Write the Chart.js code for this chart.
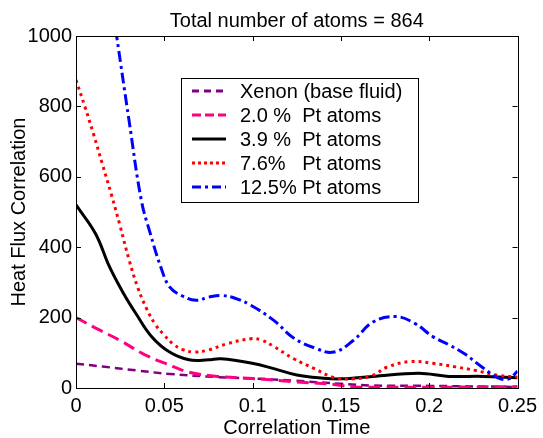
<!DOCTYPE html>
<html>
<head>
<meta charset="utf-8">
<script src="https://cdn.jsdelivr.net/npm/chart.js@4.4.1/dist/chart.umd.min.js"></script>
<style>
  html, body { margin: 0; padding: 0; background: #fff; }
</style>
</head>
<body>
<canvas id="chart" width="543" height="438"></canvas>
<script>
// Axis ticks
const xTicks = [0, 0.05, 0.1, 0.15, 0.2, 0.25];
const xTickLabels = ['0', '0.05', '0.1', '0.15', '0.2', '0.25'];
const yTicks = [0, 200, 400, 600, 800, 1000];
const yTickLabels = ['0', '200', '400', '600', '800', '1000'];

// Series labels
const seriesLabels = ['Xenon (base fluid)', '2.0 %  Pt atoms', '3.9 %  Pt atoms', '7.6%   Pt atoms', '12.5% Pt atoms'];

// Xenon (base fluid)
const xenonT = [0, 0.015, 0.034, 0.053, 0.08, 0.1, 0.123, 0.15, 0.168, 0.2, 0.25];
const xenonV = [69, 61, 50, 40, 31, 27, 21, 12, 7, 6, 3];

// 2.0 % Pt
const pt20T = [0, 0.012, 0.025, 0.038, 0.051, 0.064, 0.08, 0.1, 0.123, 0.146, 0.157, 0.175, 0.2, 0.225, 0.25];
const pt20V = [200, 168, 135, 97, 69, 45, 33, 27, 18, 10, 3, 2, 2, 3, 4];

// 3.9 % Pt
const pt39T = [0, 0.011, 0.019, 0.027, 0.034, 0.043, 0.053, 0.064, 0.075, 0.082, 0.099, 0.112, 0.125, 0.14, 0.15, 0.168, 0.194, 0.211, 0.23, 0.25];
const pt39V = [520, 439, 344, 268, 211, 145, 102, 80, 80, 83, 71, 55, 37, 28, 26, 33, 42, 33, 33, 29];

// 7.6 % Pt
const pt76T = [0, 0.005, 0.01, 0.015, 0.02, 0.025, 0.03, 0.035, 0.04, 0.045, 0.05, 0.055, 0.06, 0.067, 0.075, 0.085, 0.099, 0.105, 0.112, 0.123, 0.135, 0.146, 0.157, 0.168, 0.176, 0.189, 0.202, 0.215, 0.226, 0.239, 0.25];
const pt76V = [875, 800, 720, 635, 550, 460, 365, 285, 225, 180, 150, 125, 110, 102, 108, 125, 140, 136, 118, 84, 55, 30, 26, 36, 59, 75, 70, 60, 50, 36, 31];

// 12.5 % Pt
const pt125T = [0, 0.01, 0.02, 0.023, 0.03, 0.037, 0.042, 0.048, 0.053, 0.06, 0.068, 0.075, 0.082, 0.09, 0.099, 0.112, 0.123, 0.135, 0.146, 0.157, 0.168, 0.181, 0.192, 0.202, 0.211, 0.22, 0.23, 0.239, 0.245, 0.25];
const pt125V = [1950, 1450, 1100, 1000, 761, 533, 440, 344, 287, 262, 249, 258, 263, 255, 235, 192, 143, 114, 102, 135, 187, 203, 183, 146, 123, 97, 59, 29, 26, 48];

const FONT = { family: "'Liberation Sans', Arial, sans-serif", size: 20 };
const TICK_LEN = 5;

function points(ts, vs) {
  return ts.map((t, i) => ({ x: t, y: vs[i] }));
}

// Dash patterns used in the legend box (shorter than in the plot)
const legendDash = [[7, 5], [9, 4], [], [3, 3], [9, 4, 3, 4]];

// Frame with inward ticks on all four sides
const framePlugin = {
  id: 'frame',
  afterDatasetsDraw(chart) {
    const { ctx, chartArea: a, scales: { x, y } } = chart;
    ctx.save();
    ctx.strokeStyle = '#000';
    ctx.lineWidth = 1;
    ctx.beginPath();
    x.ticks.forEach(t => {
      const px = Math.round(x.getPixelForValue(t.value)) + 0.5;
      ctx.moveTo(px, a.bottom); ctx.lineTo(px, a.bottom - TICK_LEN);
      ctx.moveTo(px, a.top); ctx.lineTo(px, a.top + TICK_LEN);
    });
    y.ticks.forEach(t => {
      const py = Math.round(y.getPixelForValue(t.value)) + 0.5;
      ctx.moveTo(a.left, py); ctx.lineTo(a.left + TICK_LEN, py);
      ctx.moveTo(a.right, py); ctx.lineTo(a.right - TICK_LEN, py);
    });
    ctx.stroke();
    ctx.strokeRect(Math.round(a.left) + 0.5, Math.round(a.top) + 0.5, Math.round(a.width), Math.round(a.height));
    ctx.restore();
  }
};

// Legend box drawn inside the plot
const legendPlugin = {
  id: 'boxLegend',
  afterDraw(chart) {
    const { ctx } = chart;
    const box = { left: 181, top: 78, width: 237, height: 124 };
    ctx.save();
    ctx.fillStyle = '#fff';
    ctx.fillRect(box.left, box.top, box.width, box.height);
    ctx.strokeStyle = '#000';
    ctx.lineWidth = 1;
    ctx.strokeRect(box.left + 0.5, box.top + 0.5, box.width, box.height);
    ctx.font = `${FONT.size}px ${FONT.family}`;
    ctx.textBaseline = 'middle';
    chart.data.datasets.forEach((ds, i) => {
      const rowY = 91 + i * 24;
      ctx.beginPath();
      ctx.strokeStyle = ds.borderColor;
      ctx.lineWidth = 3;
      ctx.setLineDash(legendDash[i]);
      ctx.moveTo(192, rowY);
      ctx.lineTo(226, rowY);
      ctx.stroke();
      ctx.setLineDash([]);
      ctx.fillStyle = '#000';
      ctx.fillText(ds.label, 240, rowY + 1);
    });
    ctx.restore();
  }
};

new Chart(document.getElementById('chart'), {
  type: 'line',
  data: {
    datasets: [
      { label: seriesLabels[0], data: points(xenonT, xenonV), borderColor: '#800080', borderWidth: 2.5, borderDash: [8, 5], order: 5 },
      { label: seriesLabels[1], data: points(pt20T, pt20V), borderColor: '#ff0080', borderWidth: 3, borderDash: [12, 6], order: 4 },
      { label: seriesLabels[2], data: points(pt39T, pt39V), borderColor: '#000000', borderWidth: 3, order: 3 },
      { label: seriesLabels[3], data: points(pt76T, pt76V), borderColor: '#ff0000', borderWidth: 3, borderDash: [3, 4], order: 2 },
      { label: seriesLabels[4], data: points(pt125T, pt125V), borderColor: '#0000ff', borderWidth: 3, borderDash: [11, 4, 3, 4], order: 1 }
    ]
  },
  options: {
    responsive: false,
    animation: false,
    events: [],
    elements: {
      point: { radius: 0 },
      line: { tension: 0.4, fill: false }
    },
    layout: { padding: { left: 0, right: 20, top: 0, bottom: 0 } },
    plugins: {
      legend: { display: false },
      tooltip: { enabled: false },
      title: {
        display: true,
        text: 'Total number of atoms = 864',
        color: '#000',
        font: { ...FONT, weight: 'normal' },
        fullSize: false,
        padding: { top: 9, bottom: 3 }
      }
    },
    scales: {
      x: {
        type: 'linear',
        min: 0,
        max: 0.25,
        afterFit: s => { s.height = 50; },
        afterBuildTicks: s => { s.ticks = xTicks.map(v => ({ value: v })); },
        grid: { display: false, drawTicks: false },
        border: { display: false },
        ticks: {
          color: '#000',
          font: FONT,
          padding: 6,
          maxRotation: 0,
          callback: v => xTickLabels[xTicks.indexOf(v)]
        },
        title: {
          display: true,
          text: 'Correlation Time',
          color: '#000',
          font: { ...FONT, lineHeight: 1 },
          padding: 0
        }
      },
      y: {
        min: 0,
        max: 1000,
        afterFit: s => { s.width = 76; },
        afterBuildTicks: s => { s.ticks = yTicks.map(v => ({ value: v })); },
        grid: { display: false, drawTicks: false },
        border: { display: false },
        ticks: {
          color: '#000',
          font: FONT,
          padding: 4,
          callback: v => yTickLabels[yTicks.indexOf(v)]
        },
        title: {
          display: true,
          text: 'Heat Flux Correlation',
          color: '#000',
          font: FONT,
          padding: { top: 7, bottom: 0 }
        }
      }
    }
  },
  plugins: [framePlugin, legendPlugin]
});
</script>
</body>
</html>
